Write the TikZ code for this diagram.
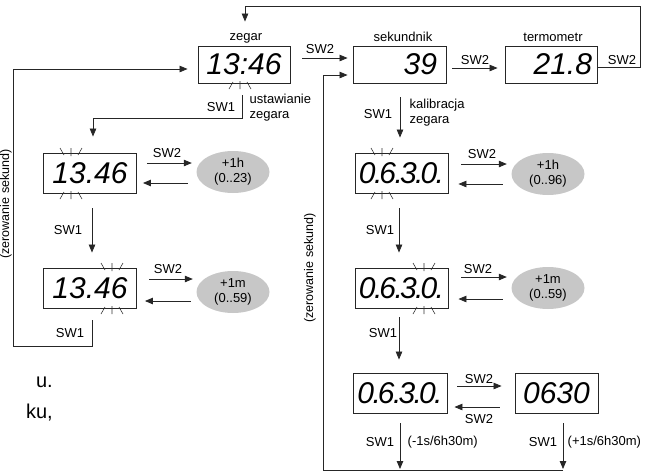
\documentclass[tikz,border=0pt]{standalone}
\usepackage{fontspec}
\setmainfont{Liberation Sans}
\usetikzlibrary{arrows.meta,calc,shapes.geometric}
\begin{document}
\begin{tikzpicture}[x=1pt,y=-1pt,
  disp/.style={draw=black!85, line width=0.9pt, minimum width=93pt, minimum height=40pt, inner sep=0pt,
     font=\fontsize{30}{30}\selectfont\itshape},
  lbl/.style={font=\fontsize{13}{14}\selectfont, inner sep=0.5pt},
  oval/.style={ellipse, fill=black!22, minimum width=73pt, minimum height=42pt, inner sep=0pt,
     align=center, font=\fontsize{13}{15}\selectfont},
  arr/.style={draw=black!85, line width=0.8pt, -{Triangle[length=8pt,width=6.5pt]}},
  ln/.style={draw=black!85, line width=0.8pt},
  flash/.style={draw=black!80, line width=0.6pt},
  body/.style={font=\fontsize{20}{20}\selectfont, inner sep=0pt}]
\useasboundingbox (0,0) rectangle (651,472);

\newcommand{\blinktop}[2]{\draw[flash] (#1-11,#2-5)--(#1-7,#2+2) (#1,#2-5)--(#1,#2+3) (#1+11,#2-5)--(#1+7,#2+2);}
\newcommand{\blinkbot}[2]{\draw[flash] (#1-11,#2+6)--(#1-7,#2-1) (#1,#2+6)--(#1,#2-2) (#1+11,#2+6)--(#1+7,#2-1);}

% display boxes
\node[disp, minimum width=92pt, minimum height=37pt] (zeg) at (244,64.5) {13:46};
\node[disp, minimum height=37pt, text width=75pt, align=right] (sek) at (399.5,64.5) {39};
\node[disp, minimum width=92pt, minimum height=37pt, text width=82pt, align=right] (ter) at (551,64.5) {21.8};
\node[disp] (b1) at (90,173) {13.46};
\node[disp] (b2) at (90,288) {13.46};
\node[disp] (b3) at (401.5,173) {0\kern-1.5pt.\kern-3pt6\kern-1.5pt.\kern-3pt3\kern-1.5pt.\kern-3pt0\kern-1.5pt.};
\node[disp] (b4) at (401.5,288) {0\kern-1.5pt.\kern-3pt6\kern-1.5pt.\kern-3pt3\kern-1.5pt.\kern-3pt0\kern-1.5pt.};
\node[disp, minimum width=94pt] (b5) at (400,393) {0\kern-1.5pt.\kern-3pt6\kern-1.5pt.\kern-3pt3\kern-1.5pt.\kern-3pt0\kern-1.5pt.};
\node[disp, minimum width=83pt] (b6) at (556.5,393) {0630};

% titles
\node[lbl] (tz) at (246,38) {zegar};
\node[lbl] (ts) at (403,37) {sekundnik};
\node[lbl] (tt) at (553,37) {termometr};

% ellipses
\node[oval] (e1) at (233,172) {+1h\\(0..23)};
\node[oval] (e2) at (233,292) {+1m\\(0..59)};
\node[oval] (e3) at (548,174) {+1h\\(0..96)};
\node[oval] (e4) at (548,288) {+1m\\(0..59)};

% blinking marks
\blinkbot{240}{83}
\blinktop{71}{153}\blinkbot{71}{193}
\blinktop{112}{268}\blinkbot{112}{308}
\blinktop{382}{153}\blinkbot{382}{193}
\blinktop{424}{268}\blinkbot{424}{308}

% top row connectors
\draw[arr] ($(zeg.east)+(12,-6.5)$) -- ($(sek.west)+(-5,-6.5)$);
\node[lbl] (l1) at (320,49) {SW2};
\draw[arr] ($(sek.east)+(6,3.5)$) -- ($(ter.west)+(-7,3.5)$);
\node[lbl] (l2) at (475,60) {SW2};
\coordinate (tr) at (640,6);
\draw[arr] ($(ter.east)+(0,2.5)$) -| (tr) -| ($(zeg.north)+(1,-24)$);
\node[lbl] (l3) at (622,60) {SW2};

% zegar -> setting
\draw[arr] ($(zeg.south)+(-2,12)$) -- ($(zeg.south)+(-2,35)$) -| ($(b1.north)+(3,-16)$);
\node[lbl] (l4) at (221,107) {SW1};
\node[lbl, anchor=west, align=left, font=\fontsize{13}{15}\selectfont] (l5) at (249,108) {ustawianie\\zegara};

% left column
\draw[arr] ($(b1.east)+(10,-10)$) -- ($(e1.west)+(-4.5,-9)$);
\draw[arr] ($(e1.west)+(-8.5,11)$) -- ($(b1.east)+(6,10)$);
\node[lbl] (l6) at (167,153) {SW2};
\draw[arr] ($(b1.south)+(2,15)$) -- ($(b2.north)+(2,-15)$);
\node[lbl] (l7) at (68,230) {SW1};
\draw[arr] ($(b2.east)+(12,-9)$) -- ($(e2.west)+(-3.5,-13)$);
\draw[arr] ($(e2.west)+(-5.5,9)$) -- ($(b2.east)+(8,13)$);
\node[lbl] (l8) at (168,269) {SW2};
\coordinate (lb) at (13,346);
\draw[arr] ($(b2.south)+(2,12)$) |- (lb) |- ($(zeg.west)+(-10,4.5)$);
\node[lbl] (l9) at (70,333) {SW1};
\node[lbl, rotate=90, font=\fontsize{12.5}{13}\selectfont] (z1) at (6,204) {(zerowanie sekund)};

% right column
\draw[arr] ($(sek.south)+(0.5,14)$) -- ($(b3.north)+(-1.5,-15)$);
\node[lbl] (l10) at (378,114) {SW1};
\node[lbl, anchor=west, align=left, font=\fontsize{13}{15}\selectfont] (l11) at (409,113) {kalibracja\\zegara};
\draw[arr] ($(b3.east)+(13,-9)$) -- ($(e3.west)+(-4.5,-10)$);
\draw[arr] ($(e3.west)+(-8.5,10)$) -- ($(b3.east)+(10,11)$);
\node[lbl] (l12) at (482,154) {SW2};
\draw[arr] ($(b3.south)+(-2.5,15)$) -- ($(b4.north)+(-2.5,-15)$);
\node[lbl] (l13) at (380,230) {SW1};
\draw[arr] ($(b4.east)+(13,-11)$) -- ($(e4.west)+(-4.5,-11)$);
\draw[arr] ($(e4.west)+(-8.5,11)$) -- ($(b4.east)+(10,11)$);
\node[lbl] (l14) at (478,269) {SW2};
\draw[arr] ($(b4.south)+(-2.5,9)$) -- ($(b5.north)+(-1,-13)$);
\node[lbl] (l15) at (383,333) {SW1};
\draw[arr] ($(b5.east)+(10,-7)$) -- ($(b6.west)+(-13,-7)$);
\draw[arr] ($(b6.west)+(-15,14)$) -- ($(b5.east)+(7,14)$);
\node[lbl] (l16) at (479,379) {SW2};
\node[lbl] (l17) at (479,419) {SW2};

% bottom loop
\coordinate (bot1) at (400,470);
\coordinate (bot2) at (563,470);
\coordinate (botL) at (323,470);
\draw[arr] ($(b5.south)+(0,10)$) -- ($(bot1)+(0,-1)$);
\draw[arr] ($(b6.south)+(6.5,10)$) -- ($(bot2)+(0,-1)$);
\draw[arr] (bot2) -- (botL) |- ($(sek.west)+(-5,10.5)$);
\node[lbl] (l18) at (380,442) {SW1};
\node[lbl, anchor=west] (l19) at (407,442) {(-1s/6h30m)};
\node[lbl] (l20) at (543,442) {SW1};
\node[lbl, anchor=west] (l21) at (567,442) {(+1s/6h30m)};
\node[lbl, rotate=90, font=\fontsize{12.5}{13}\selectfont] (z2) at (310,268) {(zerowanie sekund)};

% fragments of surrounding text
\node[body, anchor=base east] (f1) at (53,387) {u.};
\node[body, anchor=base east] (f2) at (53,418) {ku,};
\end{tikzpicture}
\end{document}
